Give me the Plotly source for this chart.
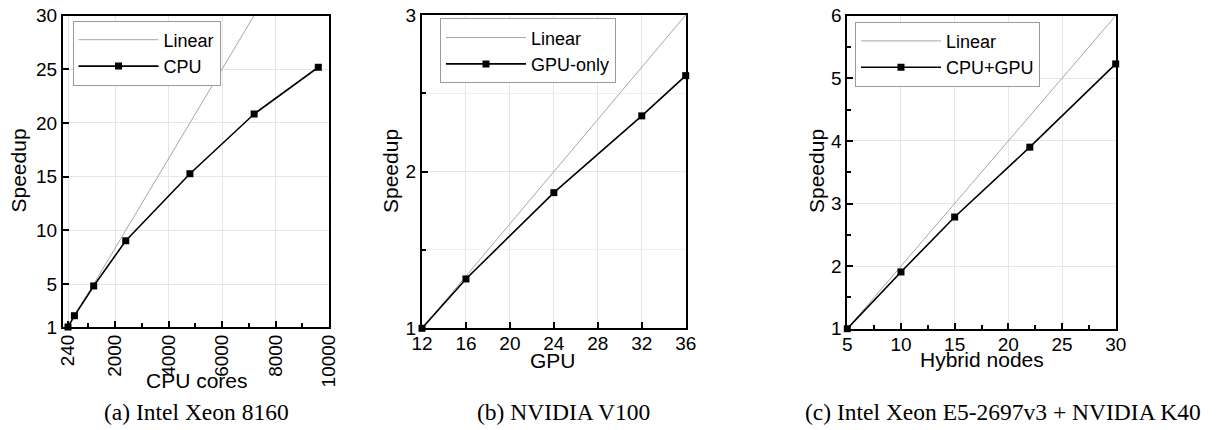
import plotly.graph_objects as go

# ---------------- data ----------------
cpu_cores = [240, 480, 1200, 2400, 4800, 7200, 9600]
cpu_speedup = [1.0, 2.05, 4.82, 9.03, 15.27, 20.83, 25.18]
cpu_linear_x = [240, 7200]
cpu_linear_y = [1, 30]
cpu_xticks = [240, 2000, 4000, 6000, 8000, 10000]
cpu_yticks = [1, 5, 10, 15, 20, 25, 30]

gpu_counts = [12, 16, 24, 32, 36]
gpu_speedup = [1.0, 1.315, 1.866, 2.356, 2.613]
gpu_linear_x = [12, 36]
gpu_linear_y = [1, 3]
gpu_xticks = [12, 16, 20, 24, 28, 32, 36]
gpu_yticks = [1, 2, 3]

hyb_nodes = [5, 10, 15, 22, 30]
hyb_speedup = [1.0, 1.906, 2.784, 3.90, 5.23]
hyb_linear_x = [5, 30]
hyb_linear_y = [1, 6]
hyb_xticks = [5, 10, 15, 20, 25, 30]
hyb_yticks = [1, 2, 3, 4, 5, 6]

W, H = 1227, 430
OFF = 8  # page body margin offset
SANS = "Liberation Sans, Arial, sans-serif"
SERIF = "Liberation Serif, Times New Roman, serif"


def fx(p):
    return (p - OFF) / W


def fy(p):
    return 1 - (p - OFF) / H


fig = go.Figure()

panels = [
    ("x", "y", "legend", cpu_linear_x, cpu_linear_y, cpu_cores, cpu_speedup, "CPU"),
    ("x2", "y2", "legend2", gpu_linear_x, gpu_linear_y, gpu_counts, gpu_speedup, "GPU-only"),
    ("x3", "y3", "legend3", hyb_linear_x, hyb_linear_y, hyb_nodes, hyb_speedup, "CPU+GPU"),
]
for xa, ya, lg, lx, ly, dx, dy, name in panels:
    fig.add_trace(go.Scatter(
        x=lx, y=ly, mode="lines", name="Linear", xaxis=xa, yaxis=ya, legend=lg,
        line=dict(color="#a6a6a6", width=1),
    ))
    fig.add_trace(go.Scatter(
        x=dx, y=dy, mode="lines+markers", name=name, xaxis=xa, yaxis=ya, legend=lg,
        line=dict(color="black", width=1.6),
        marker=dict(symbol="square", size=7, color="black"),
        cliponaxis=False,
    ))

common = dict(
    showline=True, linecolor="black", linewidth=2, mirror=True,
    ticks="inside", ticklen=6, tickwidth=1.5, tickcolor="black",
    showgrid=True, gridcolor="#e6e6e6", gridwidth=1, zeroline=False,
    automargin=False, ticklabeloverflow="allow",
    tickfont=dict(size=19, color="black", family=SANS),
)

# panel geometry in reference pixels (left, right, top, bottom)
geo = {
    "a": (63.0, 329.0, 15.5, 327.0),
    "b": (422.0, 685.7, 15.0, 328.3),
    "c": (847.3, 1115.7, 15.7, 328.7),
}


def dom(key):
    l, r, t, b = geo[key]
    return [fx(l), fx(r)], [fy(b), fy(t)]


xa_d, ya_d = dom("a")
xb_d, yb_d = dom("b")
xc_d, yc_d = dom("c")

fig.update_layout(
    width=W, height=H, autosize=False,
    margin=dict(l=0, r=0, t=0, b=0, autoexpand=False),
    paper_bgcolor="white", plot_bgcolor="white",
    font=dict(family=SANS, color="black", size=17),
    xaxis=dict(common, domain=xa_d, anchor="y", range=[53, 10000],
               tickmode="array", tickvals=cpu_xticks,
               ticktext=[str(v) for v in cpu_xticks], tickangle=-90,
               ticklabelstandoff=-2,
               minor=dict(tickmode="linear", tick0=0, dtick=1000, ticks="inside",
                          ticklen=4, tickcolor="black", showgrid=False)),
    yaxis=dict(common, domain=ya_d, anchor="x", range=[1, 30],
               tickmode="array", tickvals=cpu_yticks),
    xaxis2=dict(common, domain=xb_d, anchor="y2", range=[12, 36],
                tickmode="array", tickvals=gpu_xticks, ticklabelstandoff=-3),
    yaxis2=dict(common, domain=yb_d, anchor="x2", range=[1, 3],
                tickmode="array", tickvals=gpu_yticks,
                minor=dict(tickmode="linear", tick0=1, dtick=0.5, ticks="inside",
                           ticklen=4, tickcolor="black", showgrid=True,
                           gridcolor="#eeeeee")),
    xaxis3=dict(common, domain=xc_d, anchor="y3", range=[5, 30],
                tickmode="array", tickvals=hyb_xticks, ticklabelstandoff=-3,
                minor=dict(tickmode="linear", tick0=5, dtick=2.5, ticks="inside",
                           ticklen=4, tickcolor="black", showgrid=False)),
    yaxis3=dict(common, domain=yc_d, anchor="x3", range=[1, 6],
                tickmode="array", tickvals=hyb_yticks,
                minor=dict(tickmode="linear", tick0=1, dtick=0.5, ticks="inside",
                           ticklen=4, tickcolor="black", showgrid=False)),
)

leg_common = dict(
    xanchor="left", yanchor="top", bgcolor="white",
    bordercolor="#9a9a9a", borderwidth=1,
    font=dict(size=18, color="black", family=SANS),
    itemwidth=80, tracegroupgap=0, traceorder="normal",
)
fig.update_layout(
    legend=dict(leg_common, x=fx(72.5), y=fy(20.5)),
    legend2=dict(leg_common, x=fx(440), y=fy(18.3)),
    legend3=dict(leg_common, x=fx(855), y=fy(21.7)),
)

annotations = []
# x axis titles
for text, cx, cy in [("CPU cores", 196.7, 380), ("GPU", 553, 360), ("Hybrid nodes", 981.7, 359)]:
    annotations.append(dict(text=text, x=fx(cx), y=fy(cy), xref="paper", yref="paper",
                            xanchor="center", yanchor="middle", showarrow=False,
                            font=dict(size=21, color="black", family=SANS)))
# y axis titles
for cx in [18.5, 391, 817]:
    annotations.append(dict(text="Speedup", x=fx(cx), y=fy(171), xref="paper", yref="paper",
                            xanchor="center", yanchor="middle", showarrow=False, textangle=-90,
                            font=dict(size=21, color="black", family=SANS)))
# captions
for text, cx in [("(a) Intel Xeon 8160", 197), ("(b) NVIDIA V100", 563),
                 ("(c) Intel Xeon E5-2697v3 + NVIDIA K40", 1003)]:
    annotations.append(dict(text=text, x=fx(cx), y=fy(412), xref="paper", yref="paper",
                            xanchor="center", yanchor="middle", showarrow=False,
                            font=dict(size=23.5, color="black", family=SERIF)))
fig.update_layout(annotations=annotations)

fig.write_html("out.html")
